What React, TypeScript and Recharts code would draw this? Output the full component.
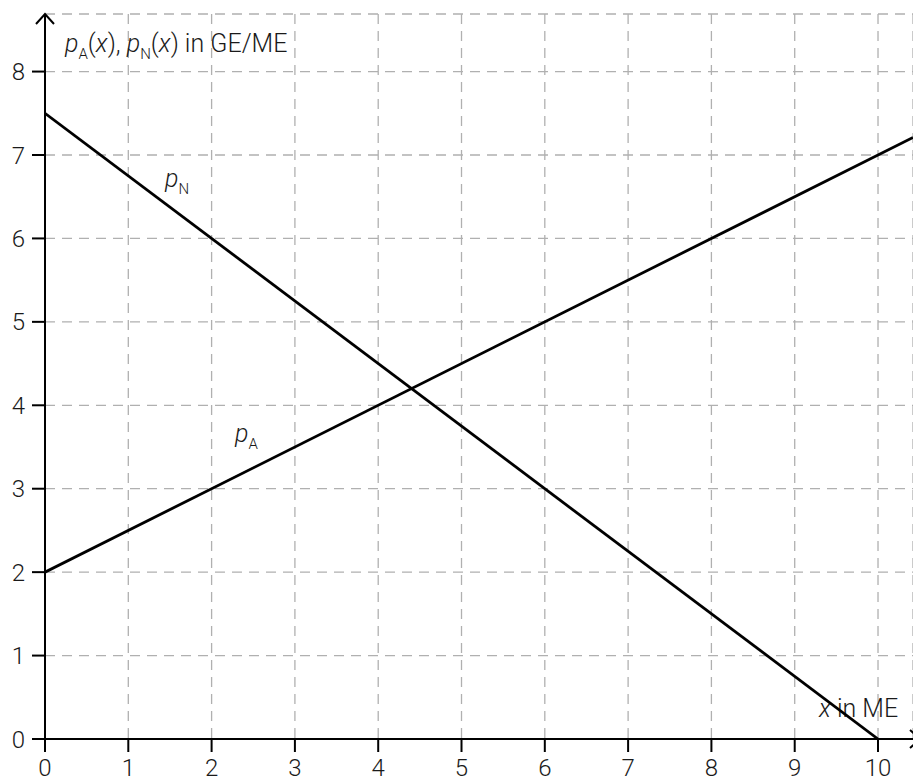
import React from 'react';
import { LineChart, Line, XAxis, YAxis, CartesianGrid } from 'recharts';

const xTicks = [0, 1, 2, 3, 4, 5, 6, 7, 8, 9, 10];
const yTicks = [0, 1, 2, 3, 4, 5, 6, 7, 8];

// demand / supply price functions
const pN = [
  { x: 0, y: 7.5 },
  { x: 10, y: 0 },
];
const pA = [
  { x: 0, y: 2 },
  { x: 10.42, y: 7.21 },
];

const FONT = 'Roboto, "Liberation Sans", Arial, sans-serif';
const TXT = '#1a1a1a';
const FS = 25;
const SUB = 15;

const Sub = ({ x, y, name }: { x: number; y: number; name: string }) => (
  <text x={x} y={y} fontFamily={FONT} fontWeight={300} fontSize={FS} fill={TXT}>
    <tspan fontStyle="italic">p</tspan>
    <tspan fontSize={SUB} dy={7}>{name}</tspan>
  </text>
);

const Overlay = () => (
  <g>
    {/* y axis arrow */}
    <polyline points="36,24 45,14 54,24" fill="none" stroke="#000" strokeWidth={2} />
    {/* x axis arrow (cut off by the right edge) */}
    <polyline points="910,730 920,739 910,748" fill="none" stroke="#000" strokeWidth={2} />
    <text x={65} y={52} fontFamily={FONT} fontWeight={300} fontSize={FS} fill={TXT}>
      <tspan fontStyle="italic">p</tspan>
      <tspan fontSize={SUB} dy={7}>A</tspan>
      <tspan dy={-7}>(</tspan>
      <tspan fontStyle="italic">x</tspan>
      <tspan>), </tspan>
      <tspan fontStyle="italic">p</tspan>
      <tspan fontSize={SUB} dy={7}>N</tspan>
      <tspan dy={-7}>(</tspan>
      <tspan fontStyle="italic">x</tspan>
      <tspan>) in GE/ME</tspan>
    </text>
    <Sub x={165} y={187} name="N" />
    <Sub x={235} y={442} name="A" />
    <text x={819} y={717} fontFamily={FONT} fontWeight={300} fontSize={FS} fill={TXT}>
      <tspan fontStyle="italic">x</tspan>
      <tspan> in ME</tspan>
    </text>
  </g>
);

const tickStyle = { fontSize: 24, fill: TXT, fontFamily: FONT, fontWeight: 300 };

export default function App() {
  return (
    <div style={{ position: 'absolute', left: 0, top: 0, width: 913, height: 782, background: '#fff' }}>
      <LineChart width={913} height={782} margin={{ top: 14, right: 0, bottom: 0, left: 0 }}>
        <CartesianGrid stroke="#b0b0b0" strokeDasharray="10 7" strokeWidth={1.3} />
        <XAxis
          type="number"
          dataKey="x"
          domain={[0, 10.42]}
          ticks={xTicks}
          allowDataOverflow
          height={43}
          tickSize={13}
          axisLine={{ stroke: '#000', strokeWidth: 2 }}
          tickLine={{ stroke: '#000', strokeWidth: 2 }}
          tick={tickStyle}
          tickMargin={7}
        />
        <YAxis
          type="number"
          dataKey="y"
          domain={[0, 8.69]}
          ticks={yTicks}
          allowDataOverflow
          width={45}
          tickSize={13}
          axisLine={{ stroke: '#000', strokeWidth: 2 }}
          tickLine={{ stroke: '#000', strokeWidth: 2 }}
          tick={tickStyle}
          tickMargin={7}
        />
        <Line data={pN} dataKey="y" stroke="#000" strokeWidth={2.8} dot={false} isAnimationActive={false} />
        <Line data={pA} dataKey="y" stroke="#000" strokeWidth={2.8} dot={false} isAnimationActive={false} />
        <Overlay />
      </LineChart>
    </div>
  );
}
